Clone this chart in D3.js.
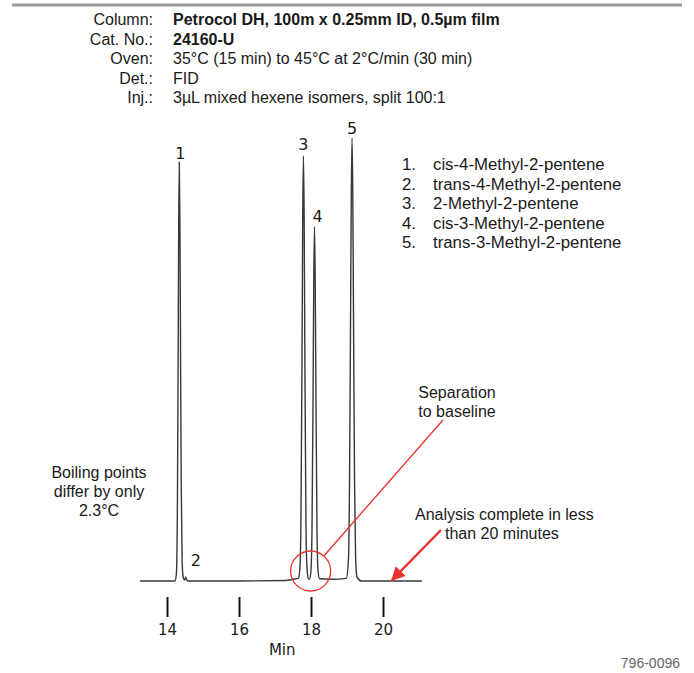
<!DOCTYPE html>
<html>
<head>
<meta charset="utf-8">
<script src="https://cdn.jsdelivr.net/npm/d3@7"></script>
<style>
  body { margin: 0; background: #fff; }
  svg text { font-family: "Liberation Sans", Arial, sans-serif; fill: #1a1a1a; }
  svg .num { font-family: "DejaVu Sans", Verdana, sans-serif; }
</style>
</head>
<body>
<svg id="chart" width="694" height="673"></svg>
<script>
// method block at the top
const headerLabels = ["Column:", "Cat. No.:", "Oven:", "Det.:", "Inj.:"];
const headerValues = [
  "Petrocol DH, 100m x 0.25mm ID, 0.5µm film",
  "24160-U",
  "35°C (15 min) to 45°C at 2°C/min (30 min)",
  "FID",
  "3µL mixed hexene isomers, split 100:1"
];

// peak identification
const peakNums = ["1", "2", "3", "4", "5"];
const peakNames = [
  "cis-4-Methyl-2-pentene",
  "trans-4-Methyl-2-pentene",
  "2-Methyl-2-pentene",
  "cis-3-Methyl-2-pentene",
  "trans-3-Methyl-2-pentene"
];
const peakTimes = [14.342, 14.52, 17.79, 18.097, 19.14];
const peakHeights = [94.6, 0.9, 96, 80, 100];

// detector trace (min, relative response)
const traceTime = [
  13.25, 14.22, 14.26, 14.29, 14.31, 14.325, 14.342, 14.36, 14.375, 14.395, 14.42, 14.45, 14.49, 14.52, 14.545, 14.58,
  16.0, 17.3, 17.5, 17.65,
  17.69, 17.72, 17.75, 17.77, 17.79, 17.81, 17.83, 17.86, 17.89, 17.93,
  17.957, 17.997, 18.027, 18.057, 18.077, 18.097, 18.117, 18.137, 18.167, 18.197, 18.237,
  18.6, 18.98, 19.04, 19.07, 19.10, 19.12, 19.14, 19.16, 19.18, 19.21, 19.24, 19.28, 19.4, 21.08
];
const traceSignal = [
  0, 0, 1.5, 18, 52, 80, 94.6, 79, 54, 22, 4.5, 0.8, 0.2, 0.9, 0.3, 0,
  0, 0.1, 0.4, 0.6,
  2.8, 13, 50, 82, 96, 82, 50, 13, 2.8, 0.5,
  0.4, 2.2, 11, 42, 68, 80, 68, 42, 11, 2.2, 0.5,
  0.4, 0.6, 4.8, 22, 61, 88, 100, 88, 61, 22, 5, 0.8, 0, 0
];

const xTicks = [14, 16, 18, 20];

const svg = d3.select("#chart");

const x = d3.scaleLinear().domain([14, 20]).range([167, 383]);
const y = d3.scaleLinear().domain([0, 100]).range([581, 138]);

// header rule
svg.append("line")
  .attr("x1", 12).attr("x2", 682)
  .attr("y1", 5).attr("y2", 5)
  .attr("stroke", "#9a9a9a")
  .attr("stroke-width", 3);

const header = svg.append("g").attr("font-size", 16);
headerLabels.forEach((lab, i) => {
  const yy = 25 + i * 19.5;
  header.append("text")
    .attr("x", 153).attr("y", yy)
    .attr("text-anchor", "end")
    .text(lab);
  header.append("text")
    .attr("x", 173).attr("y", yy)
    .attr("font-weight", i < 2 ? "bold" : "normal")
    .text(headerValues[i]);
});

// trace
const pts = traceTime.map((t, i) => [t, traceSignal[i]]);
const line = d3.line()
  .x(d => x(d[0]))
  .y(d => y(d[1]))
  .curve(d3.curveMonotoneX);

svg.append("path")
  .datum(pts)
  .attr("d", line)
  .attr("fill", "none")
  .attr("stroke", "#383838")
  .attr("stroke-width", 1.4)
  .attr("stroke-linejoin", "round");

// peak numbers
const labOff = [[1, -3], [10, -11], [0, -6], [3, -5], [0, -4]];
svg.append("g").attr("font-size", 16)
  .selectAll("text")
  .data(peakNums)
  .join("text")
  .attr("class", "num")
  .attr("x", (d, i) => x(peakTimes[i]) + labOff[i][0])
  .attr("y", (d, i) => y(peakHeights[i]) + labOff[i][1])
  .attr("text-anchor", "middle")
  .text(d => d);

// legend
const legend = svg.append("g").attr("font-size", 16.8);
peakNames.forEach((nm, i) => {
  const yy = 170 + i * 19.5;
  legend.append("text").attr("x", 402).attr("y", yy).text(peakNums[i] + ".");
  legend.append("text").attr("x", 433).attr("y", yy).text(nm);
});

// x axis: detached tick marks
const axis = d3.axisBottom(x)
  .tickValues(xTicks)
  .tickSize(20)
  .tickPadding(7)
  .tickFormat(d3.format("d"));

const gx = svg.append("g")
  .attr("transform", "translate(0,597)")
  .call(axis);
gx.select(".domain").remove();
gx.selectAll(".tick line").attr("stroke", "#111").attr("stroke-width", 2);
gx.selectAll(".tick text")
  .attr("class", "num")
  .attr("font-size", 15)
  .attr("font-family", null)
  .attr("fill", "#1a1a1a");

svg.append("text")
  .attr("class", "num")
  .attr("x", x(17.2)).attr("y", 655)
  .attr("text-anchor", "middle")
  .attr("font-size", 15)
  .text("Min");

// annotations
const red = "#e8302c";
const ann = svg.append("g").attr("font-size", 16);

ann.append("text").attr("x", 99).attr("y", 478).attr("text-anchor", "middle").text("Boiling points");
ann.append("text").attr("x", 99).attr("y", 497).attr("text-anchor", "middle").text("differ by only");
ann.append("text").attr("x", 99).attr("y", 516).attr("text-anchor", "middle").text("2.3°C");

const cx = x(17.99), cy = y(0) - 10, r = 20;
ann.append("circle")
  .attr("cx", cx).attr("cy", cy).attr("r", r)
  .attr("fill", "none").attr("stroke", red).attr("stroke-width", 1.3);

const tx = 443, ty = 420;
const ang = Math.atan2(ty - cy, tx - cx);
ann.append("line")
  .attr("x1", cx + r * Math.cos(ang)).attr("y1", cy + r * Math.sin(ang))
  .attr("x2", tx).attr("y2", ty)
  .attr("stroke", red).attr("stroke-width", 1.3);

ann.append("text").attr("x", 457).attr("y", 398).attr("text-anchor", "middle").text("Separation");
ann.append("text").attr("x", 457).attr("y", 417).attr("text-anchor", "middle").text("to baseline");

ann.append("text").attr("x", 415).attr("y", 520).text("Analysis complete in less");
ann.append("text").attr("x", 445).attr("y", 539).text("than 20 minutes");

svg.append("defs").append("marker")
  .attr("id", "head")
  .attr("viewBox", "0 0 10 10")
  .attr("refX", 9).attr("refY", 5)
  .attr("markerWidth", 7).attr("markerHeight", 5.5)
  .attr("markerUnits", "strokeWidth")
  .attr("orient", "auto")
  .append("path")
  .attr("d", "M0,0 L10,5 L0,10 Z")
  .attr("fill", red);

ann.append("line")
  .attr("x1", 441).attr("y1", 530)
  .attr("x2", x(20.25)).attr("y2", y(0) - 1)
  .attr("stroke", red)
  .attr("stroke-width", 2.5)
  .attr("marker-end", "url(#head)");

svg.append("text")
  .attr("x", 680).attr("y", 668)
  .attr("text-anchor", "end")
  .attr("font-size", 14)
  .style("fill", "#666")
  .text("796-0096");
</script>
</body>
</html>
